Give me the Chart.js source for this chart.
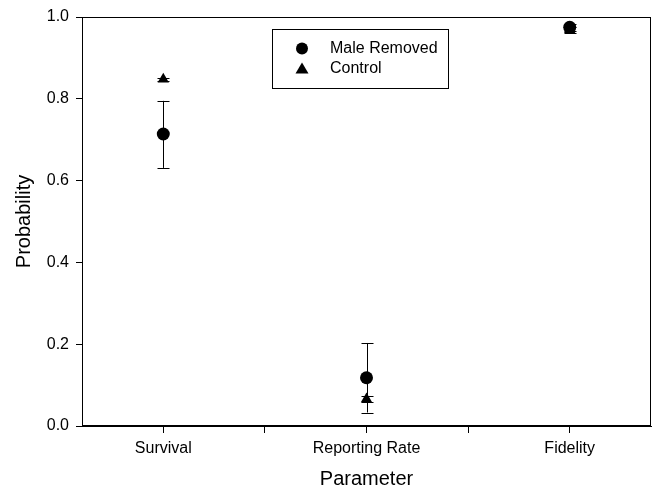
<!DOCTYPE html>
<html>
<head>
<meta charset="utf-8">
<script src="https://cdn.jsdelivr.net/npm/chart.js@4.4.0/dist/chart.umd.min.js"></script>
<style>
  html, body { margin: 0; padding: 0; background: #fff; overflow: hidden; }
  #wrap { width: 652px; height: 495px; position: relative; overflow: hidden; }
  #c { display: block; width: 652px; height: 495px; }
</style>
</head>
<body>
<div id="wrap"><canvas id="c" width="652" height="495"></canvas></div>
<script>
const categories = ['Survival', 'Reporting Rate', 'Fidelity'];
const seriesNames = ['Male Removed', 'Control'];
const maleRemoved = [0.714, 0.118, 0.975];
const maleLower = [0.631, 0.033, 0.966];
const maleUpper = [0.795, 0.203, 0.983];
const control = [0.848, 0.066, 0.969];
const controlLower = [0.843, 0.058, 0.962];
const controlUpper = [0.852, 0.073, 0.976];
const yTicks = [0, 0.2, 0.4, 0.6, 0.8, 1.0];
const xTickPositions = [1, 1.5, 2, 2.5, 3];

const FONT = "'Liberation Sans', Arial, sans-serif";

const errorBars = {
  id: 'errorBars',
  beforeDatasetsDraw(chart) {
    const ctx = chart.ctx;
    const xs = chart.scales.x, ys = chart.scales.y;
    const sets = [[maleLower, maleUpper], [controlLower, controlUpper]];
    ctx.save();
    ctx.strokeStyle = '#000';
    ctx.lineWidth = 1;
    sets.forEach(([lo, hi]) => {
      categories.forEach((c, i) => {
        const x = Math.round(xs.getPixelForValue(i + 1)) + 0.5;
        const y1 = ys.getPixelForValue(lo[i]);
        const y2 = ys.getPixelForValue(hi[i]);
        ctx.beginPath();
        ctx.moveTo(x, y1); ctx.lineTo(x, y2);
        ctx.moveTo(x - 6, Math.round(y1) + 0.5); ctx.lineTo(x + 6, Math.round(y1) + 0.5);
        ctx.moveTo(x - 6, Math.round(y2) + 0.5); ctx.lineTo(x + 6, Math.round(y2) + 0.5);
        ctx.stroke();
      });
    });
    ctx.restore();
  }
};

const frameAndLegend = {
  id: 'frameAndLegend',
  afterDraw(chart) {
    const ctx = chart.ctx;
    const a = chart.chartArea;
    ctx.save();
    ctx.strokeStyle = '#000';
    ctx.lineWidth = 1;
    ctx.strokeRect(Math.round(a.left) + 0.5, Math.round(a.top) + 0.5, Math.round(a.right - a.left) - 1, Math.round(a.bottom - a.top) - 1);
    ctx.font = '16px ' + FONT;
    const tw = Math.max(...seriesNames.map(s => ctx.measureText(s).width));
    const lx = 272.5, ly = 29.5, lh = 59;
    const lw = Math.round(330 - 272 + tw + 10);
    ctx.strokeRect(lx, ly, lw, lh);
    ctx.fillStyle = '#000';
    ctx.beginPath();
    ctx.arc(302, 48.5, 6, 0, Math.PI * 2);
    ctx.fill();
    ctx.beginPath();
    ctx.moveTo(302, 62.5);
    ctx.lineTo(308.5, 73.5);
    ctx.lineTo(295.5, 73.5);
    ctx.closePath();
    ctx.fill();
    ctx.textBaseline = 'middle';
    ctx.textAlign = 'left';
    ctx.fillText(seriesNames[0], 330, 49);
    ctx.fillText(seriesNames[1], 330, 69);
    ctx.restore();
  }
};

new Chart(document.getElementById('c'), {
  type: 'scatter',
  data: {
    datasets: [
      {
        label: seriesNames[0],
        data: maleRemoved.map((v, i) => ({ x: i + 1, y: v })),
        pointStyle: 'circle',
        pointRadius: 6.5,
        backgroundColor: '#000',
        borderColor: '#000',
        borderWidth: 0
      },
      {
        label: seriesNames[1],
        data: control.map((v, i) => ({ x: i + 1, y: v })),
        pointStyle: 'triangle',
        pointRadius: 6.5,
        backgroundColor: '#000',
        borderColor: '#000',
        borderWidth: 0
      }
    ]
  },
  options: {
    responsive: false,
    animation: false,
    layout: { autoPadding: false, padding: { top: 17, right: 1, left: 0, bottom: 0 } },
    plugins: { legend: { display: false }, tooltip: { enabled: false } },
    scales: {
      x: {
        type: 'linear',
        min: 0.6,
        max: 3.4,
        afterBuildTicks(axis) { axis.ticks = xTickPositions.map(v => ({ value: v })); },
        afterFit(axis) { axis.height = 69; axis.paddingLeft = 0; axis.paddingRight = 0; },
        ticks: {
          color: '#000',
          font: { family: FONT, size: 16 },
          padding: 6,
          maxRotation: 0,
          autoSkip: false,
          callback(v) { return Number.isInteger(v) ? categories[v - 1] : ''; }
        },
        grid: { drawOnChartArea: false, drawTicks: true, tickLength: 7, color: '#000' },
        border: { display: true, color: '#000' },
        title: { display: true, text: 'Parameter', color: '#000', font: { family: FONT, size: 20 }, padding: { top: 0, bottom: 4 } }
      },
      y: {
        min: 0,
        max: 1,
        afterBuildTicks(axis) { axis.ticks = yTicks.map(v => ({ value: v })); },
        afterFit(axis) { axis.width = 82; axis.paddingTop = 0; axis.paddingBottom = 0; },
        ticks: {
          color: '#000',
          font: { family: FONT, size: 16 },
          padding: 7,
          callback(v) { return Number(v).toFixed(1); }
        },
        grid: { drawOnChartArea: false, drawTicks: true, tickLength: 6, color: '#000' },
        border: { display: true, color: '#000' },
        title: { display: true, text: 'Probability', color: '#000', font: { family: FONT, size: 20 }, padding: { top: 12, bottom: 0 } }
      }
    }
  },
  plugins: [errorBars, frameAndLegend]
});
</script>
</body>
</html>
